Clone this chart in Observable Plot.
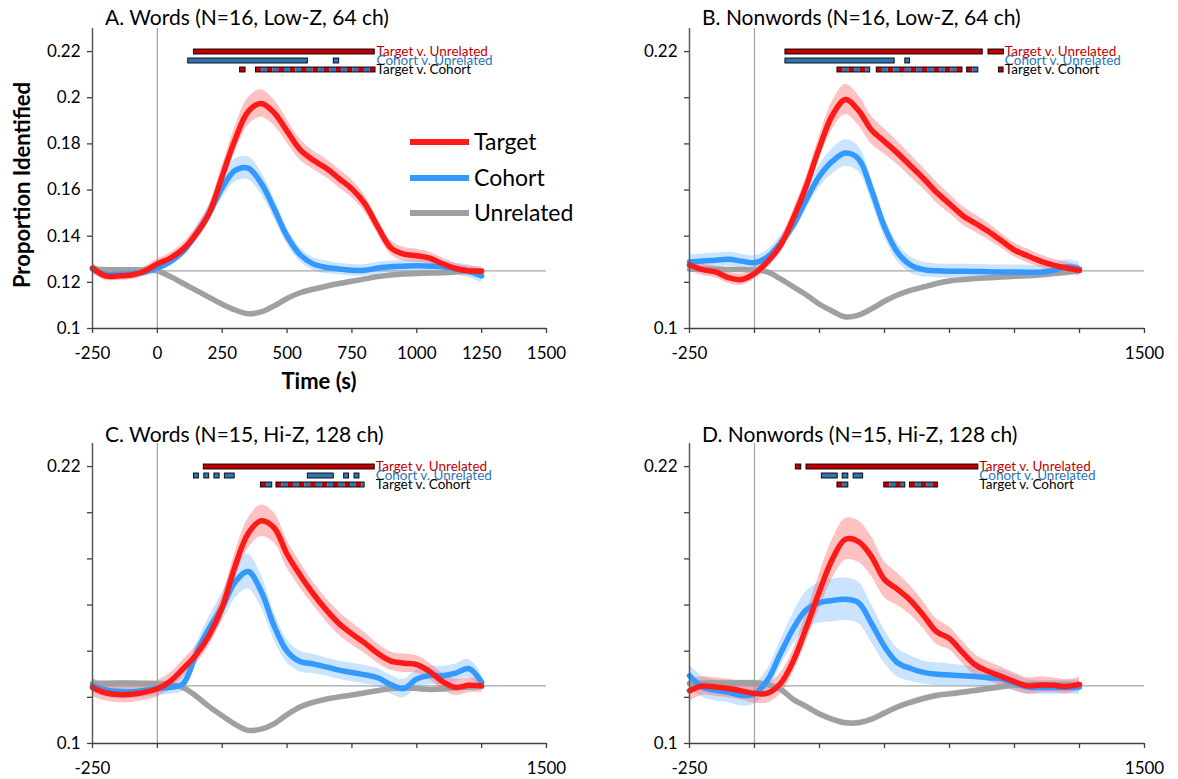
<!DOCTYPE html>
<html><head><meta charset="utf-8">
<script src="https://cdn.jsdelivr.net/npm/d3@7"></script>
<script src="https://cdn.jsdelivr.net/npm/@observablehq/plot@0.6"></script>
<style>
body{margin:0;background:#fff;font-family:Lato,"Open Sans",sans-serif;}
#root{position:relative;width:1178px;height:779px;overflow:hidden;background:#fff;}
.abs{position:absolute;}
.title{font-size:21px;color:#000;white-space:nowrap;line-height:21px;}
.axlab{font-size:22px;font-weight:bold;color:#000;white-space:nowrap;line-height:22px;}
.legline{position:absolute;height:6px;width:59px;}
.legtext{position:absolute;font-size:23px;line-height:23px;white-space:nowrap;color:#000;}
</style></head><body><div id="root"></div>
<script>
// ---------------- DATA ----------------
const times = [-250,-200,-150,-100,-50,0,50,100,150,200,250,300,350,400,450,500,550,600,650,700,750,800,850,900,950,1000,1050,1100,1150,1200,1250];
const seriesNames = ["Target","Cohort","Unrelated"];
const comparisons = ["Target v. Unrelated","Cohort v. Unrelated","Target v. Cohort"];
const yTicks = [0.1,0.12,0.14,0.16,0.18,0.2,0.22];
const xTicks = [-250,0,250,500,750,1000,1250,1500];
const titles = ["A. Words (N=16, Low-Z, 64 ch)","B. Nonwords (N=16, Low-Z, 64 ch)","C. Words (N=15, Hi-Z, 128 ch)","D. Nonwords (N=15, Hi-Z, 128 ch)"];

// Panel A
const targetA = [0.1262,0.1228,0.1228,0.1232,0.1248,0.1280,0.1305,0.1345,0.1410,0.1500,0.1660,0.1820,0.1940,0.1975,0.1935,0.1855,0.1775,0.1730,0.1695,0.1650,0.1605,0.1540,0.1440,0.1350,0.1322,0.1315,0.1305,0.1280,0.1260,0.1250,0.1248];
const cohortA = [0.1258,0.1235,0.1235,0.1238,0.1245,0.1262,0.1290,0.1335,0.1410,0.1500,0.1610,0.1685,0.1695,0.1630,0.1520,0.1400,0.1320,0.1280,0.1265,0.1258,0.1252,0.1252,0.1262,0.1268,0.1270,0.1272,0.1270,0.1268,0.1258,0.1248,0.1228];
const unrelatedA = [0.1258,0.1255,0.1255,0.1255,0.1254,0.1250,0.1225,0.1195,0.1165,0.1135,0.1105,0.1080,0.1064,0.1072,0.1098,0.1130,0.1155,0.1170,0.1183,0.1195,0.1205,0.1215,0.1225,0.1232,0.1236,0.1238,0.1240,0.1242,0.1245,0.1248,0.1250];
const seTargetA = [0.0022,0.002,0.002,0.002,0.002,0.002,0.0022,0.0025,0.003,0.0035,0.0045,0.0055,0.006,0.006,0.0055,0.005,0.0045,0.004,0.004,0.004,0.0038,0.0035,0.0032,0.003,0.003,0.0028,0.0025,0.0025,0.0022,0.002,0.002];
const seCohortA = [0.0022,0.002,0.002,0.002,0.002,0.002,0.002,0.0022,0.0028,0.0035,0.0045,0.005,0.005,0.0048,0.0042,0.0035,0.003,0.0028,0.0028,0.0025,0.0025,0.0025,0.0025,0.0025,0.0025,0.0025,0.0025,0.0025,0.0025,0.0028,0.003];
const seUnrelatedA = 0.0008;
const tvuA = [[141,838]];
const cvuA = [[119,580],[680,701]];
const tvcA = [[319,340],[380,841]];

// Panel B
const targetB = [0.1275,0.1255,0.1245,0.1220,0.1212,0.1238,0.1290,0.1360,0.1480,0.1620,0.1785,0.1925,0.1992,0.1945,0.1860,0.1810,0.1760,0.1705,0.1650,0.1590,0.1540,0.1490,0.1455,0.1420,0.1380,0.1340,0.1315,0.1292,0.1275,0.1262,0.1252];
const cohortB = [0.1288,0.1293,0.1296,0.1300,0.1292,0.1285,0.1310,0.1370,0.1450,0.1560,0.1660,0.1725,0.1760,0.1735,0.1600,0.1440,0.1330,0.1275,0.1255,0.1250,0.1248,0.1248,0.1247,0.1246,0.1245,0.1245,0.1244,0.1244,0.1252,0.1268,0.1258];
const unrelatedB = [0.1257,0.1257,0.1257,0.1256,0.1256,0.1254,0.1245,0.1215,0.1180,0.1145,0.1105,0.1075,0.1050,0.1058,0.1085,0.1118,0.1145,0.1165,0.1180,0.1195,0.1206,0.1212,0.1217,0.1220,0.1223,0.1226,0.1229,0.1233,0.1238,0.1243,0.1250];
const seTargetB = [0.0025,0.0025,0.0025,0.0025,0.0025,0.0025,0.0028,0.003,0.0035,0.004,0.005,0.006,0.0065,0.0065,0.006,0.0055,0.005,0.0048,0.0045,0.0045,0.0042,0.004,0.0038,0.0035,0.0032,0.003,0.003,0.0028,0.0025,0.0025,0.0022];
const seCohortB = [0.003,0.003,0.003,0.003,0.003,0.003,0.003,0.0032,0.0035,0.004,0.0048,0.0055,0.0058,0.0055,0.005,0.0045,0.004,0.0035,0.0032,0.003,0.003,0.003,0.003,0.003,0.003,0.003,0.003,0.0028,0.0028,0.003,0.003];
const seUnrelatedB = 0.0008;
const tvuB = [[119,878],[900,959]];
const cvuB = [[119,539],[580,598]];
const tvcB = [[319,445],[470,800],[818,861],[940,958]];

// Panel C
const targetC = [0.1243,0.1220,0.1212,0.1213,0.1222,0.1237,0.1270,0.1325,0.1385,0.1470,0.1590,0.1770,0.1910,0.1965,0.1935,0.1820,0.1730,0.1650,0.1580,0.1520,0.1475,0.1435,0.1390,0.1357,0.1348,0.1342,0.1312,0.1268,0.1243,0.1252,0.1250];
const cohortC = [0.1250,0.1232,0.1225,0.1224,0.1230,0.1238,0.1243,0.1260,0.1390,0.1500,0.1590,0.1700,0.1745,0.1660,0.1510,0.1400,0.1355,0.1345,0.1332,0.1318,0.1308,0.1298,0.1285,0.1255,0.1238,0.1280,0.1295,0.1294,0.1305,0.1325,0.1265];
const unrelatedC = [0.1260,0.1261,0.1262,0.1262,0.1261,0.1260,0.1255,0.1242,0.1205,0.1160,0.1120,0.1083,0.1057,0.1062,0.1085,0.1125,0.1158,0.1178,0.1192,0.1202,0.1210,0.1220,0.1229,0.1238,0.1240,0.1238,0.1234,0.1236,0.1242,0.1244,0.1246];
const seTargetC = [0.004,0.0035,0.0035,0.0035,0.0035,0.0035,0.0035,0.0038,0.004,0.0045,0.005,0.0058,0.0065,0.0068,0.0065,0.006,0.0055,0.005,0.005,0.005,0.0048,0.0045,0.0042,0.004,0.004,0.0038,0.0035,0.0035,0.0035,0.0032,0.003];
const seCohortC = [0.003,0.003,0.003,0.003,0.003,0.003,0.003,0.0032,0.004,0.005,0.0062,0.0072,0.0075,0.007,0.006,0.005,0.0045,0.0042,0.004,0.004,0.004,0.004,0.004,0.004,0.004,0.004,0.004,0.004,0.004,0.004,0.0035];
const seUnrelatedC = 0.0009;
const tvuC = [[179,838]];
const cvuC = [[141,160],[181,200],[220,240],[260,298],[580,680],[720,739],[760,779]];
const tvcC = [[399,443],[459,799]];

// Panel D
const targetD = [0.1229,0.1249,0.1245,0.1238,0.1228,0.1217,0.1218,0.1260,0.1360,0.1505,0.1660,0.1800,0.1885,0.1875,0.1810,0.1710,0.1668,0.1620,0.1555,0.1485,0.1455,0.1395,0.1340,0.1312,0.1290,0.1268,0.1250,0.1254,0.1252,0.1247,0.1256];
const cohortD = [0.1294,0.1245,0.1230,0.1222,0.1208,0.1215,0.1275,0.1390,0.1500,0.1580,0.1610,0.1620,0.1625,0.1610,0.1520,0.1420,0.1350,0.1325,0.1308,0.1300,0.1297,0.1294,0.1290,0.1285,0.1280,0.1262,0.1245,0.1243,0.1243,0.1243,0.1245];
const unrelatedD = [0.1260,0.1261,0.1262,0.1262,0.1263,0.1263,0.1255,0.1235,0.1190,0.1160,0.1128,0.1105,0.1090,0.1090,0.1105,0.1132,0.1158,0.1178,0.1195,0.1208,0.1215,0.1222,0.1230,0.1238,0.1246,0.1252,0.1255,0.1255,0.1255,0.1255,0.1255];
const seTargetD = [0.0045,0.004,0.004,0.004,0.004,0.0042,0.0042,0.0045,0.005,0.006,0.0075,0.0085,0.009,0.009,0.0085,0.0078,0.007,0.0062,0.0058,0.0055,0.005,0.0048,0.0045,0.0042,0.004,0.0038,0.0035,0.0035,0.0032,0.003,0.003];
const seCohortD = [0.0045,0.0045,0.0045,0.0045,0.0045,0.0045,0.0048,0.0055,0.0068,0.008,0.0088,0.0092,0.0092,0.009,0.0082,0.0072,0.0062,0.0055,0.005,0.005,0.0048,0.0045,0.0042,0.004,0.0038,0.0035,0.0032,0.003,0.003,0.003,0.003];
const seUnrelatedD = 0.0012;
const tvuD = [[159,180],[200,861]];
const cvuD = [[259,320],[339,361],[381,418]];
const tvcD = [[319,361],[499,580],[598,706]];

// ---------------- STYLE ----------------
const lineColor = {Target:"#ff1a1a", Cohort:"#3399ff", Unrelated:"#a0a0a0"};
const bandColor = {Target:"#ff4d4d", Cohort:"#66b3ff", Unrelated:"#a0a0a0"};
const bandOpacity = {Target:0.35, Cohort:0.35, Unrelated:0.35};
const compColor = {"Target v. Unrelated":"#c00000","Cohort v. Unrelated":"#2e75b6","Target v. Cohort":"#000000"};
const sigRed = "#c00000", sigBlue = "#2e75b6";

const root = document.getElementById("root");
function place(el, left, top){ const d=document.createElement("div"); d.className="abs"; d.style.left=left+"px"; d.style.top=top+"px"; d.appendChild(el); root.appendChild(d); return d; }

function rows(target, cohort, unrelated, seT, seC, seU){
  const out=[];
  times.forEach((t,i)=>{
    out.push({t, series:"Target", v:target[i], se:seT[i]});
    out.push({t, series:"Cohort", v:cohort[i], se:seC[i]});
    out.push({t, series:"Unrelated", v:unrelated[i], se:seU});
  });
  return out;
}

const panels = [
  {title:titles[0], left:0,   top:0,   height:400, mL:92,  mR:43, mB:72, full:true,
   data:rows(targetA,cohortA,unrelatedA,seTargetA,seCohortA,seUnrelatedA), sig:[tvuA,cvuA,tvcA], sigTop:47},
  {title:titles[1], left:589, top:0,   height:400, mL:100, mR:34, mB:72, full:false,
   data:rows(targetB,cohortB,unrelatedB,seTargetB,seCohortB,seUnrelatedB), sig:[tvuB,cvuB,tvcB], sigTop:47},
  {title:titles[2], left:0,   top:415, height:364, mL:92,  mR:43, mB:36, full:false,
   data:rows(targetC,cohortC,unrelatedC,seTargetC,seCohortC,seUnrelatedC), sig:[tvuC,cvuC,tvcC], sigTop:462},
  {title:titles[3], left:589, top:415, height:364, mL:100, mR:34, mB:36, full:false,
   data:rows(targetD,cohortD,unrelatedD,seTargetD,seCohortD,seUnrelatedD), sig:[tvuD,cvuD,tvcD], sigTop:462}
];

const fmtY = d => String(+d.toFixed(2));

for (const p of panels){
  const bandMarks = [], lineMarks = [];
  for (const s of ["Unrelated","Cohort","Target"]){
    const ds = p.data.filter(d=>d.series===s);
    bandMarks.push(Plot.areaY(ds,{x:"t", y1:d=>d.v-d.se, y2:d=>d.v+d.se, fill:bandColor[s], fillOpacity:bandOpacity[s], curve:"catmull-rom"}));
    lineMarks.push(Plot.lineY(ds,{x:"t", y:"v", stroke:lineColor[s], strokeWidth:5.5, curve:"catmull-rom", strokeLinejoin:"round", strokeLinecap:"round"}));
  }
  const chart = Plot.plot({
    width:589, height:p.height,
    marginLeft:p.mL, marginRight:p.mR, marginTop:28, marginBottom:p.mB,
    style:{fontFamily:"Lato, 'Open Sans', sans-serif", fontSize:"17px", color:"#000", background:"transparent", overflow:"visible"},
    x:{domain:[-250,1500], label:null},
    y:{domain:[0.1,0.23], label:null},
    marks:[
      Plot.ruleY([0.125],{stroke:"#a6a6a6", strokeWidth:1.3}),
      Plot.ruleX([0],{stroke:"#a6a6a6", strokeWidth:1.3}),
      ...bandMarks,
      ...lineMarks,
      Plot.ruleX([-250],{stroke:"#595959", strokeWidth:1.5}),
      Plot.ruleY([0.1],{stroke:"#404040", strokeWidth:1.5}),
      Plot.axisY({ticks:yTicks, tickSize:5, tickPadding:7, fontSize:17, stroke:"#404040", strokeWidth:1.3,
        tickFormat: d => (p.full || d===0.1 || d===0.22) ? fmtY(d) : "", label:null}),
      Plot.axisX({ticks:xTicks, tickSize:5, tickPadding:13, fontSize:17, stroke:"#404040", strokeWidth:1.3,
        tickFormat: d => (p.full || d===-250 || d===1500) ? String(d) : "", label:null})
    ]
  });
  const holder = place(chart, p.left, p.top); holder.style.width="589px";

  // significance bars overlay
  const solid=[], stripes=[], outlines=[];
  const [tvu,cvu,tvc] = p.sig;
  tvu.forEach(([a,b])=>{ solid.push({x1:a,x2:b,comp:comparisons[0],c:sigRed}); outlines.push({x1:a,x2:b,comp:comparisons[0]}); });
  cvu.forEach(([a,b])=>{ solid.push({x1:a,x2:b,comp:comparisons[1],c:sigBlue}); outlines.push({x1:a,x2:b,comp:comparisons[1]}); });
  tvc.forEach(([a,b])=>{
    let i=0; for(let s=a; s<b; s+=22, i++) stripes.push({x1:s, x2:Math.min(s+22,b), comp:comparisons[2], c: i%2 ? sigBlue : sigRed});
    outlines.push({x1:a,x2:b,comp:comparisons[2]});
  });
  const labelX = d3.max([...tvu,...cvu,...tvc], d=>d[1]);
  const sig = Plot.plot({
    width:589, height:28, marginLeft:p.mL, marginRight:p.mR, marginTop:0, marginBottom:0,
    style:{fontFamily:"Lato, 'Open Sans', sans-serif", background:"transparent", overflow:"visible"},
    x:{domain:[-250,1500], axis:null},
    y:{type:"band", domain:comparisons, paddingInner:0.42, paddingOuter:0.21, axis:null},
    marks:[
      Plot.barX(solid,{x1:"x1", x2:"x2", y:"comp", fill:d=>d.c}),
      Plot.barX(stripes,{x1:"x1", x2:"x2", y:"comp", fill:d=>d.c}),
      Plot.barX(outlines,{x1:"x1", x2:"x2", y:"comp", fill:"none", stroke:"#000", strokeWidth:0.9}),
      Plot.text(comparisons,{x:()=>labelX, y:d=>d, text:d=>d, textAnchor:"start", dx:1, fontSize:13.5, fill:d=>compColor[d]})
    ]
  });
  const sh = place(sig, p.left, p.sigTop); sh.style.width="589px";

  const t = document.createElement("div"); t.className="title"; t.textContent=p.title;
  place(t, p.left + (p.left? 113 : 105), p.top + (p.top? 8 : 6));
}

// axis titles for panel A
const yl = document.createElement("div"); yl.className="axlab"; yl.textContent="Proportion Identified";
const ylh = place(yl, 22, 185); ylh.style.transform="translate(-50%,-50%) rotate(-90deg)";
const xl = document.createElement("div"); xl.className="axlab"; xl.textContent="Time (s)";
const xlh = place(xl, 319, 381); xlh.style.transform="translate(-50%,-50%)";

// legend
const legY = [142,178,213];
seriesNames.forEach((s,i)=>{
  const ln=document.createElement("div"); ln.className="legline"; ln.style.background=lineColor[s];
  ln.style.left="410px"; ln.style.top=(legY[i]-3)+"px"; root.appendChild(ln);
  const tx=document.createElement("div"); tx.className="legtext"; tx.textContent=s;
  tx.style.left="474px"; tx.style.top=(legY[i]-12)+"px"; root.appendChild(tx);
});
</script></body></html>
